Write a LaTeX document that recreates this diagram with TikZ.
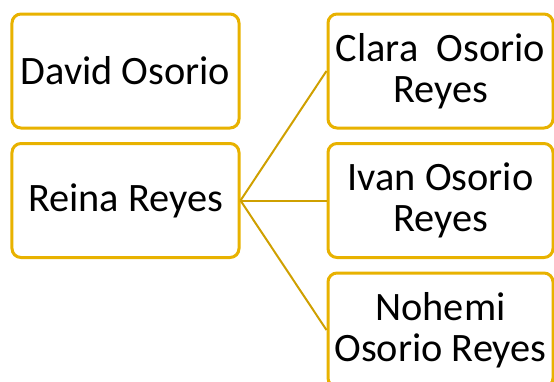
\documentclass[tikz,border=0pt]{standalone}
\usepackage{fontspec}
\setmainfont{Carlito}
\begin{document}
\begin{tikzpicture}[x=1bp,y=-1bp,
  box/.style={draw=boxgold, line width=3bp, rounded corners=9bp, fill=white,
    minimum height=114bp, align=center, inner sep=0pt,
    font=\fontsize{40.5}{41}\selectfont},
  lbox/.style={box, minimum width=227bp},
  rbox/.style={box, minimum width=225bp},
  link/.style={draw=linkgold, line width=2bp}]
\definecolor{boxgold}{HTML}{E8B200}
\definecolor{linkgold}{HTML}{CFA000}
\clip (0,0) rectangle (554,381);
\node[lbox] (david) at (125.5,71) {David Osorio};
\node[lbox] (reina) at (125.5,200.5) {Reina Reyes};
\node[rbox] (clara) at (440.5,71) {Clara\ \ Osorio\\Reyes};
\node[rbox] (ivan) at (440.5,200.5) {Ivan Osorio\\Reyes};
\node[rbox] (nohemi) at (440.5,330) {Nohemi\\Osorio Reyes};
\draw[link] (reina.east) -- (clara.west);
\draw[link] (reina.east) -- (ivan.west);
\draw[link] (reina.east) -- (nohemi.west);
\end{tikzpicture}
\end{document}
